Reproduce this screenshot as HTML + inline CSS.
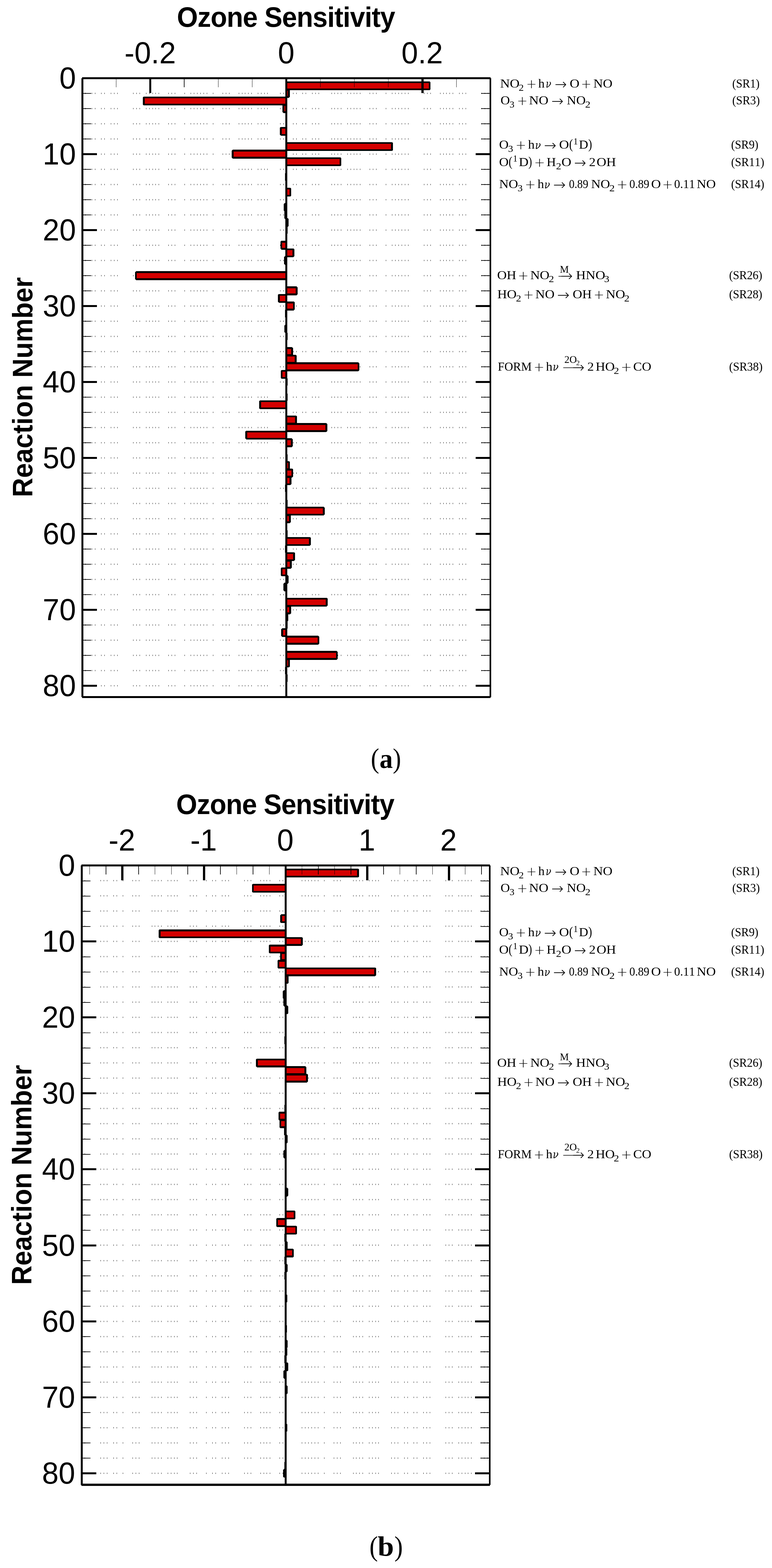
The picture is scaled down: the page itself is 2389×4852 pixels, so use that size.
<!DOCTYPE html>
<html lang="en">
<head>
<meta charset="utf-8">
<title>Ozone Sensitivity</title>
<style>
html,body{margin:0;padding:0;background:#fff}
body{width:2389px;height:4852px;overflow:hidden}
svg{display:block}
text{white-space:pre}
</style>
</head>
<body>
<svg width="2389" height="4852" viewBox="0 0 2389 4852">
<rect width="2389" height="4852" fill="#fff"/>
<g id="chart-a" shape-rendering="crispEdges">
<path d="M264.5 287V2124M284.5 287V2124M294.5 287V2124M313.5 287V2124M323.5 287V2124M343.5 287V2124M353.5 287V2124M363.5 287V2124M412.5 287V2124M422.5 287V2124M432.5 287V2124M452.5 287V2124M462.5 287V2124M472.5 287V2124M481.5 287V2124M491.5 287V2124M521.5 287V2124M531.5 287V2124M541.5 287V2124M571.5 287V2124M590.5 287V2124M600.5 287V2124M610.5 287V2124M620.5 287V2124M630.5 287V2124M640.5 287V2124M659.5 287V2124M689.5 287V2124M699.5 287V2124M709.5 287V2124M739.5 287V2124M749.5 287V2124M758.5 287V2124M768.5 287V2124M778.5 287V2124M798.5 287V2124M808.5 287V2124M818.5 287V2124M827.5 287V2124M867.5 287V2124M877.5 287V2124M907.5 287V2124M917.5 287V2124M936.5 287V2124M946.5 287V2124M966.5 287V2124M976.5 287V2124M986.5 287V2124M1026.5 287V2124M1035.5 287V2124M1045.5 287V2124M1055.5 287V2124M1075.5 287V2124M1085.5 287V2124M1095.5 287V2124M1104.5 287V2124M1114.5 287V2124M1144.5 287V2124M1154.5 287V2124M1164.5 287V2124M1194.5 287V2124M1213.5 287V2124M1223.5 287V2124M1233.5 287V2124M1243.5 287V2124M1253.5 287V2124M1263.5 287V2124M1312.5 287V2124M1322.5 287V2124M1332.5 287V2124M1362.5 287V2124M1372.5 287V2124M1381.5 287V2124M1391.5 287V2124M1401.5 287V2124M1421.5 287V2124M1431.5 287V2124M1441.5 287V2124M1490.5 287V2124M1500.5 287V2124M1510.5 287V2124" stroke="#000" stroke-width="1" stroke-dasharray="4 43" fill="none"/>
<g fill="#d40000" stroke="#000" stroke-width="5.5" stroke-linejoin="bevel"><rect x="885.9" y="254.65" width="443.45" height="21.6"/><rect x="885.9" y="278.15" width="7.95" height="21.6"/><rect x="444.75" y="301.65" width="441.15" height="21.6"/><rect x="877.15" y="325.15" width="8.75" height="21.6"/><rect x="869.05" y="395.65" width="16.85" height="21.6"/><rect x="885.9" y="442.65" width="327.25" height="21.6"/><rect x="720.15" y="466.15" width="165.75" height="21.6"/><rect x="885.9" y="489.65" width="167.35" height="21.6"/><rect x="884.75" y="536.65" width="1.15" height="21.6"/><rect x="885.9" y="583.65" width="12.45" height="21.6"/><rect x="881.15" y="630.65" width="4.75" height="21.6"/><rect x="882.75" y="654.15" width="3.15" height="21.6"/><rect x="885.9" y="677.65" width="4.35" height="21.6"/><rect x="885.9" y="701.15" width="0.85" height="21.6"/><rect x="870.55" y="748.15" width="15.35" height="21.6"/><rect x="885.9" y="771.65" width="22.05" height="21.6"/><rect x="882.15" y="795.15" width="3.75" height="21.6"/><rect x="420.65" y="842.15" width="465.25" height="21.6"/><rect x="885.9" y="889.15" width="32.15" height="21.6"/><rect x="863.05" y="912.65" width="22.85" height="21.6"/><rect x="885.9" y="936.15" width="23.55" height="21.6"/><rect x="884.75" y="959.65" width="1.15" height="21.6"/><rect x="883.15" y="1006.65" width="2.75" height="21.6"/><rect x="885.9" y="1030.15" width="1.35" height="21.6"/><rect x="885.9" y="1077.15" width="18.05" height="21.6"/><rect x="885.9" y="1100.65" width="29.15" height="21.6"/><rect x="885.9" y="1124.15" width="223.45" height="21.6"/><rect x="871.55" y="1147.65" width="14.35" height="21.6"/><rect x="885.9" y="1171.15" width="1.35" height="21.6"/><rect x="885.9" y="1218.15" width="1.35" height="21.6"/><rect x="804.95" y="1241.65" width="80.95" height="21.6"/><rect x="885.9" y="1288.65" width="30.15" height="21.6"/><rect x="885.9" y="1312.15" width="124.05" height="21.6"/><rect x="762.05" y="1335.65" width="123.85" height="21.6"/><rect x="885.9" y="1359.15" width="17.05" height="21.6"/><rect x="885.9" y="1406.15" width="1.35" height="21.6"/><rect x="885.9" y="1429.65" width="8.45" height="21.6"/><rect x="885.9" y="1453.15" width="18.55" height="21.6"/><rect x="885.9" y="1476.65" width="12.95" height="21.6"/><rect x="884.75" y="1500.15" width="1.15" height="21.6"/><rect x="885.9" y="1547.15" width="1.35" height="21.6"/><rect x="885.9" y="1570.65" width="115.95" height="21.6"/><rect x="885.9" y="1594.15" width="10.95" height="21.6"/><rect x="885.9" y="1641.15" width="1.35" height="21.6"/><rect x="885.9" y="1664.65" width="73.05" height="21.6"/><rect x="884.75" y="1688.15" width="1.15" height="21.6"/><rect x="885.9" y="1711.65" width="24.05" height="21.6"/><rect x="885.9" y="1735.15" width="14.05" height="21.6"/><rect x="871.55" y="1758.65" width="14.35" height="21.6"/><rect x="885.9" y="1782.15" width="3.95" height="21.6"/><rect x="880.15" y="1805.65" width="5.75" height="21.6"/><rect x="885.9" y="1852.65" width="125.05" height="21.6"/><rect x="885.9" y="1876.15" width="11.95" height="21.6"/><rect x="885.9" y="1899.65" width="2.85" height="21.6"/><rect x="885.9" y="1923.15" width="1.35" height="21.6"/><rect x="873.15" y="1946.65" width="12.75" height="21.6"/><rect x="885.9" y="1970.15" width="99.35" height="21.6"/><rect x="885.9" y="2017.15" width="156.35" height="21.6"/><rect x="885.9" y="2040.65" width="8.45" height="21.6"/><rect x="884.75" y="2064.15" width="1.15" height="21.6"/><rect x="885.9" y="2087.65" width="1.35" height="21.6"/></g>
<path d="M257.1 288H282V290H257.1zM1489 288H1516V290H1489zM257.1 335H282V337H257.1zM1489 335H1516V337H1489zM257.1 382H282V384H257.1zM1489 382H1516V384H1489zM257.1 429H282V431H257.1zM1489 429H1516V431H1489zM257.1 474H300V480H257.1zM1472 474H1516V480H1472zM257.1 523H282V525H257.1zM1489 523H1516V525H1489zM257.1 570H282V572H257.1zM1489 570H1516V572H1489zM257.1 617H282V619H257.1zM1489 617H1516V619H1489zM257.1 664H282V666H257.1zM1489 664H1516V666H1489zM257.1 709H300V715H257.1zM1472 709H1516V715H1472zM257.1 758H282V760H257.1zM1489 758H1516V760H1489zM257.1 805H282V807H257.1zM1489 805H1516V807H1489zM257.1 852H282V854H257.1zM1489 852H1516V854H1489zM257.1 899H282V901H257.1zM1489 899H1516V901H1489zM257.1 944H300V950H257.1zM1472 944H1516V950H1472zM257.1 993H282V995H257.1zM1489 993H1516V995H1489zM257.1 1040H282V1042H257.1zM1489 1040H1516V1042H1489zM257.1 1087H282V1089H257.1zM1489 1087H1516V1089H1489zM257.1 1134H282V1136H257.1zM1489 1134H1516V1136H1489zM257.1 1179H300V1185H257.1zM1472 1179H1516V1185H1472zM257.1 1228H282V1230H257.1zM1489 1228H1516V1230H1489zM257.1 1275H282V1277H257.1zM1489 1275H1516V1277H1489zM257.1 1322H282V1324H257.1zM1489 1322H1516V1324H1489zM257.1 1369H282V1371H257.1zM1489 1369H1516V1371H1489zM257.1 1414H300V1420H257.1zM1472 1414H1516V1420H1472zM257.1 1463H282V1465H257.1zM1489 1463H1516V1465H1489zM257.1 1510H282V1512H257.1zM1489 1510H1516V1512H1489zM257.1 1557H282V1559H257.1zM1489 1557H1516V1559H1489zM257.1 1604H282V1606H257.1zM1489 1604H1516V1606H1489zM257.1 1649H300V1655H257.1zM1472 1649H1516V1655H1472zM257.1 1698H282V1700H257.1zM1489 1698H1516V1700H1489zM257.1 1745H282V1747H257.1zM1489 1745H1516V1747H1489zM257.1 1792H282V1794H257.1zM1489 1792H1516V1794H1489zM257.1 1839H282V1841H257.1zM1489 1839H1516V1841H1489zM257.1 1884H300V1890H257.1zM1472 1884H1516V1890H1472zM257.1 1933H282V1935H257.1zM1489 1933H1516V1935H1489zM257.1 1980H282V1982H257.1zM1489 1980H1516V1982H1489zM257.1 2027H282V2029H257.1zM1489 2027H1516V2029H1489zM257.1 2074H282V2076H257.1zM1489 2074H1516V2076H1489zM257.1 2119H300V2125H257.1zM1472 2119H1516V2125H1472z" fill="#000"/>
<path d="M780.6 241.95V269.95M991.2 241.95V269.95M675.3 241.95V269.95M1096.5 241.95V269.95M570 241.95V269.95M1201.8 241.95V269.95M359.4 241.95V269.95M1412.4 241.95V269.95" stroke="#000" stroke-width="1.1" fill="none"/>
<path d="M462 241.95H467.95V287.75H462zM1304.2 241.95H1310.9V287.75H1304.2z" fill="#000"/>
<rect x="883" y="241.95" width="5.8" height="1915" fill="#000"/>
<path d="M253.9 239H1517.9V244.9H253.9zM253.9 2154H1517.9V2159.85H253.9zM252 242H258.1V2156.85H252zM1515 242H1520V2156.85H1515z" fill="#000"/>
<g font-family="'Liberation Sans', Arial, Helvetica, sans-serif" fill="#000">
<text transform="translate(884.8 82.55) scale(0.9540 1)" font-size="87.5" font-weight="bold" letter-spacing="-1.31" text-anchor="middle">Ozone Sensitivity</text>
<text transform="translate(464.75 196.15) scale(0.9720 1)" font-size="95" text-anchor="middle">-0.2</text>
<text transform="translate(885.7 196.15) scale(0.9720 1)" font-size="95" text-anchor="middle">0</text>
<text transform="translate(1306.3 196.15) scale(0.9720 1)" font-size="95" text-anchor="middle">0.2</text>
<text transform="translate(235 273.95) scale(0.9720 1)" font-size="95" text-anchor="end">0</text>
<text transform="translate(235 508.95) scale(0.9720 1)" font-size="95" text-anchor="end">10</text>
<text transform="translate(235 743.95) scale(0.9720 1)" font-size="95" text-anchor="end">20</text>
<text transform="translate(235 978.95) scale(0.9720 1)" font-size="95" text-anchor="end">30</text>
<text transform="translate(235 1213.95) scale(0.9720 1)" font-size="95" text-anchor="end">40</text>
<text transform="translate(235 1448.95) scale(0.9720 1)" font-size="95" text-anchor="end">50</text>
<text transform="translate(235 1683.95) scale(0.9720 1)" font-size="95" text-anchor="end">60</text>
<text transform="translate(235 1918.95) scale(0.9720 1)" font-size="95" text-anchor="end">70</text>
<text transform="translate(235 2153.95) scale(0.9720 1)" font-size="95" text-anchor="end">80</text>
<text transform="translate(100 1198.15) rotate(-90) scale(0.9540 1)" font-size="86.5" font-weight="bold" letter-spacing="-0.21" text-anchor="middle">Reaction Number</text>
</g>
</g>
<g id="chart-b" shape-rendering="crispEdges">
<path d="M262.5 2723V4560.94M311.5 2723V4560.94M321.5 2723V4560.94M331.5 2723V4560.94M351.5 2723V4560.94M361.5 2723V4560.94M380.5 2723V4560.94M410.5 2723V4560.94M420.5 2723V4560.94M430.5 2723V4560.94M470.5 2723V4560.94M479.5 2723V4560.94M489.5 2723V4560.94M499.5 2723V4560.94M519.5 2723V4560.94M529.5 2723V4560.94M539.5 2723V4560.94M548.5 2723V4560.94M588.5 2723V4560.94M598.5 2723V4560.94M608.5 2723V4560.94M638.5 2723V4560.94M657.5 2723V4560.94M667.5 2723V4560.94M687.5 2723V4560.94M697.5 2723V4560.94M707.5 2723V4560.94M756.5 2723V4560.94M766.5 2723V4560.94M776.5 2723V4560.94M806.5 2723V4560.94M816.5 2723V4560.94M825.5 2723V4560.94M835.5 2723V4560.94M865.5 2723V4560.94M875.5 2723V4560.94M934.5 2723V4560.94M944.5 2723V4560.94M954.5 2723V4560.94M964.5 2723V4560.94M974.5 2723V4560.94M984.5 2723V4560.94M1003.5 2723V4560.94M1033.5 2723V4560.94M1043.5 2723V4560.94M1053.5 2723V4560.94M1093.5 2723V4560.94M1102.5 2723V4560.94M1112.5 2723V4560.94M1122.5 2723V4560.94M1142.5 2723V4560.94M1152.5 2723V4560.94M1162.5 2723V4560.94M1171.5 2723V4560.94M1211.5 2723V4560.94M1221.5 2723V4560.94M1231.5 2723V4560.94M1251.5 2723V4560.94M1261.5 2723V4560.94M1280.5 2723V4560.94M1290.5 2723V4560.94M1310.5 2723V4560.94M1320.5 2723V4560.94M1330.5 2723V4560.94M1379.5 2723V4560.94M1389.5 2723V4560.94M1399.5 2723V4560.94M1419.5 2723V4560.94M1429.5 2723V4560.94M1439.5 2723V4560.94M1448.5 2723V4560.94M1458.5 2723V4560.94M1488.5 2723V4560.94M1498.5 2723V4560.94M1508.5 2723V4560.94" stroke="#000" stroke-width="1" stroke-dasharray="4 43.02" fill="none"/>
<g fill="#d40000" stroke="#000" stroke-width="5.5" stroke-linejoin="bevel"><rect x="883.9" y="2690.66" width="224.25" height="21.6"/><rect x="782.25" y="2737.69" width="101.65" height="21.6"/><rect x="870.05" y="2831.73" width="13.85" height="21.6"/><rect x="493.75" y="2878.76" width="390.15" height="21.6"/><rect x="883.9" y="2902.27" width="49.85" height="21.6"/><rect x="834.25" y="2925.78" width="49.65" height="21.6"/><rect x="869.55" y="2949.29" width="14.35" height="21.6"/><rect x="861.55" y="2972.81" width="22.35" height="21.6"/><rect x="883.9" y="2996.32" width="276.95" height="21.6"/><rect x="883.9" y="3019.83" width="6.35" height="21.6"/><rect x="878.15" y="3066.85" width="5.75" height="21.6"/><rect x="880.15" y="3090.37" width="3.75" height="21.6"/><rect x="883.9" y="3113.88" width="4.95" height="21.6"/><rect x="882.25" y="3207.93" width="1.65" height="21.6"/><rect x="794.85" y="3278.46" width="89.05" height="21.6"/><rect x="883.9" y="3301.97" width="60.95" height="21.6"/><rect x="883.9" y="3325.49" width="65.95" height="21.6"/><rect x="882.25" y="3419.53" width="1.65" height="21.6"/><rect x="864.55" y="3443.05" width="19.35" height="21.6"/><rect x="867.55" y="3466.56" width="16.35" height="21.6"/><rect x="881.75" y="3490.07" width="2.15" height="21.6"/><rect x="883.9" y="3513.58" width="3.35" height="21.6"/><rect x="883.25" y="3537.09" width="0.65" height="21.6"/><rect x="880.15" y="3560.61" width="3.75" height="21.6"/><rect x="883.9" y="3678.17" width="4.95" height="21.6"/><rect x="883.9" y="3748.7" width="27.65" height="21.6"/><rect x="857.45" y="3772.21" width="26.45" height="21.6"/><rect x="883.9" y="3795.73" width="32.65" height="21.6"/><rect x="882.25" y="3819.24" width="1.65" height="21.6"/><rect x="883.9" y="3842.75" width="2.95" height="21.6"/><rect x="883.9" y="3866.26" width="22.55" height="21.6"/><rect x="882.75" y="3889.77" width="1.15" height="21.6"/><rect x="883.9" y="3913.29" width="2.95" height="21.6"/><rect x="882.25" y="3936.8" width="1.65" height="21.6"/><rect x="883.9" y="4007.33" width="1.85" height="21.6"/><rect x="883.9" y="4101.38" width="0.85" height="21.6"/><rect x="883.9" y="4148.41" width="3.15" height="21.6"/><rect x="883.9" y="4171.92" width="1.85" height="21.6"/><rect x="882.25" y="4195.43" width="1.65" height="21.6"/><rect x="883.9" y="4218.94" width="5.35" height="21.6"/><rect x="880.15" y="4242.45" width="3.75" height="21.6"/><rect x="883.9" y="4289.48" width="3.35" height="21.6"/><rect x="883.9" y="4407.04" width="1.85" height="21.6"/><rect x="883.15" y="4524.6" width="0.75" height="21.6"/><rect x="878.75" y="4548.11" width="5.15" height="21.6"/></g>
<path d="M254.9 2725H280V2727H254.9zM1487 2725H1514V2727H1487zM254.9 2772H280V2774H254.9zM1487 2772H1514V2774H1487zM254.9 2819H280V2821H254.9zM1487 2819H1514V2821H1487zM254.9 2866H280V2868H254.9zM1487 2866H1514V2868H1487zM254.9 2910H298V2916H254.9zM1470 2910H1514V2916H1470zM254.9 2960H280V2962H254.9zM1487 2960H1514V2962H1487zM254.9 3007H280V3009H254.9zM1487 3007H1514V3009H1487zM254.9 3054H280V3056H254.9zM1487 3054H1514V3056H1487zM254.9 3101H280V3103H254.9zM1487 3101H1514V3103H1487zM254.9 3145H298V3151H254.9zM1470 3145H1514V3151H1470zM254.9 3195H280V3197H254.9zM1487 3195H1514V3197H1487zM254.9 3242H280V3244H254.9zM1487 3242H1514V3244H1487zM254.9 3289H280V3291H254.9zM1487 3289H1514V3291H1487zM254.9 3336H280V3338H254.9zM1487 3336H1514V3338H1487zM254.9 3380H298V3386H254.9zM1470 3380H1514V3386H1470zM254.9 3430H280V3432H254.9zM1487 3430H1514V3432H1487zM254.9 3477H280V3479H254.9zM1487 3477H1514V3479H1487zM254.9 3524H280V3526H254.9zM1487 3524H1514V3526H1487zM254.9 3571H280V3573H254.9zM1487 3571H1514V3573H1487zM254.9 3615H298V3621H254.9zM1470 3615H1514V3621H1470zM254.9 3665H280V3667H254.9zM1487 3665H1514V3667H1487zM254.9 3712H280V3714H254.9zM1487 3712H1514V3714H1487zM254.9 3759H280V3761H254.9zM1487 3759H1514V3761H1487zM254.9 3806H280V3808H254.9zM1487 3806H1514V3808H1487zM254.9 3851H298V3857H254.9zM1470 3851H1514V3857H1470zM254.9 3900H280V3902H254.9zM1487 3900H1514V3902H1487zM254.9 3947H280V3949H254.9zM1487 3947H1514V3949H1487zM254.9 3994H280V3996H254.9zM1487 3994H1514V3996H1487zM254.9 4041H280V4043H254.9zM1487 4041H1514V4043H1487zM254.9 4086H298V4092H254.9zM1470 4086H1514V4092H1470zM254.9 4135H280V4137H254.9zM1487 4135H1514V4137H1487zM254.9 4182H280V4184H254.9zM1487 4182H1514V4184H1487zM254.9 4229H280V4231H254.9zM1487 4229H1514V4231H1487zM254.9 4276H280V4278H254.9zM1487 4276H1514V4278H1487zM254.9 4321H298V4327H254.9zM1470 4321H1514V4327H1470zM254.9 4370H280V4372H254.9zM1487 4370H1514V4372H1487zM254.9 4417H280V4419H254.9zM1487 4417H1514V4419H1487zM254.9 4464H280V4466H254.9zM1487 4464H1514V4466H1487zM254.9 4511H280V4513H254.9zM1487 4511H1514V4513H1487zM254.9 4556H298V4562H254.9zM1470 4556H1514V4562H1470z" fill="#000"/>
<path d="M833.38 2677.95V2705.95M934.42 2677.95V2705.95M782.86 2677.95V2705.95M984.94 2677.95V2705.95M732.34 2677.95V2705.95M1035.46 2677.95V2705.95M681.82 2677.95V2705.95M1085.98 2677.95V2705.95M580.78 2677.95V2705.95M1187.02 2677.95V2705.95M530.26 2677.95V2705.95M1237.54 2677.95V2705.95M479.74 2677.95V2705.95M1288.06 2677.95V2705.95M429.22 2677.95V2705.95M1338.58 2677.95V2705.95M328.18 2677.95V2705.95M1439.62 2677.95V2705.95M277.66 2677.95V2705.95M1490.14 2677.95V2705.95" stroke="#000" stroke-width="1.5" fill="none"/>
<path d="M375.1 2677.95H382V2723.75H375.1zM628 2677.95H635V2723.75H628zM1133 2677.95H1140.05V2723.75H1133zM1385.5 2677.95H1392.5V2723.75H1385.5z" fill="#000"/>
<rect x="880.9" y="2677.95" width="6" height="1916.4" fill="#000"/>
<path d="M251.9 2675H1515.9V2680.85H251.9zM251.9 4590.9H1515.9V4597.85H251.9zM250 2678H255.9V4594.85H250zM1513 2678H1518V4594.85H1513z" fill="#000"/>
<g font-family="'Liberation Sans', Arial, Helvetica, sans-serif" fill="#000">
<text transform="translate(882.5 2518.55) scale(0.9540 1)" font-size="87.5" font-weight="bold" letter-spacing="-1.31" text-anchor="middle">Ozone Sensitivity</text>
<text transform="translate(377.4 2632.15) scale(0.9720 1)" font-size="95" text-anchor="middle">-2</text>
<text transform="translate(630 2632.15) scale(0.9720 1)" font-size="95" text-anchor="middle">-1</text>
<text transform="translate(882.8 2632.15) scale(0.9720 1)" font-size="95" text-anchor="middle">0</text>
<text transform="translate(1135.4 2632.15) scale(0.9720 1)" font-size="95" text-anchor="middle">1</text>
<text transform="translate(1387.9 2632.15) scale(0.9720 1)" font-size="95" text-anchor="middle">2</text>
<text transform="translate(232.7 2709.95) scale(0.9720 1)" font-size="95" text-anchor="end">0</text>
<text transform="translate(232.7 2945.07) scale(0.9720 1)" font-size="95" text-anchor="end">10</text>
<text transform="translate(232.7 3180.19) scale(0.9720 1)" font-size="95" text-anchor="end">20</text>
<text transform="translate(232.7 3415.31) scale(0.9720 1)" font-size="95" text-anchor="end">30</text>
<text transform="translate(232.7 3650.43) scale(0.9720 1)" font-size="95" text-anchor="end">40</text>
<text transform="translate(232.7 3885.55) scale(0.9720 1)" font-size="95" text-anchor="end">50</text>
<text transform="translate(232.7 4120.67) scale(0.9720 1)" font-size="95" text-anchor="end">60</text>
<text transform="translate(232.7 4355.79) scale(0.9720 1)" font-size="95" text-anchor="end">70</text>
<text transform="translate(232.7 4590.91) scale(0.9720 1)" font-size="95" text-anchor="end">80</text>
<text transform="translate(97 3635.65) rotate(-90) scale(0.9540 1)" font-size="86.5" font-weight="bold" letter-spacing="-0.21" text-anchor="middle">Reaction Number</text>
</g>
</g>
<g id="eqs-a" fill="#000" style="font-kerning:none">
<g><text transform="translate(1547.85 271) scale(1.1224 1)" font-family="'Liberation Serif', 'Times New Roman', serif" font-size="37">NO</text><text transform="translate(1605.29 280.8) scale(1.0312 1)" font-family="'Liberation Serif', 'Times New Roman', serif" font-size="30.3">2</text> <text transform="translate(1628.2 272.9) scale(1.0041 1)" font-family="'DejaVu Sans Light', 'DejaVu Sans', sans-serif" font-size="38.88" font-weight="200">+</text> <text transform="translate(1665.81 271) scale(1.0583 1)" font-family="'Liberation Serif', 'Times New Roman', serif" font-size="37">h</text><text transform="translate(1688.63 271.47) scale(0.8228 1)" font-family="'DejaVu Serif', 'Liberation Serif', serif" font-size="34.17" font-style="italic">ν</text> <text transform="translate(1716.2 276.18) scale(0.9985 1)" font-family="'DejaVu Sans Light', 'DejaVu Sans', sans-serif" font-size="45" font-weight="200">→</text> <text transform="translate(1762.95 271) scale(1.1283 1)" font-family="'Liberation Serif', 'Times New Roman', serif" font-size="37">O</text> <text transform="translate(1797.67 272.9) scale(0.9995 1)" font-family="'DejaVu Sans Light', 'DejaVu Sans', sans-serif" font-size="38.88" font-weight="200">+</text> <text transform="translate(1836.26 271) scale(1.1049 1)" font-family="'Liberation Serif', 'Times New Roman', serif" font-size="37">NO</text> <text transform="translate(2265.93 271) scale(0.9582 1)" font-family="'Liberation Serif', 'Times New Roman', serif" font-size="37">(SR1)</text></g>
<g><text transform="translate(1549.1 323.1) scale(1.0811 1)" font-family="'Liberation Serif', 'Times New Roman', serif" font-size="37">O</text><text transform="translate(1577.11 332.6) scale(0.9968 1)" font-family="'Liberation Serif', 'Times New Roman', serif" font-size="29.85">3</text> <text transform="translate(1599.75 325) scale(1.0165 1)" font-family="'DejaVu Sans Light', 'DejaVu Sans', sans-serif" font-size="38.88" font-weight="200">+</text> <text transform="translate(1637.36 323.1) scale(1.1165 1)" font-family="'Liberation Serif', 'Times New Roman', serif" font-size="37">NO</text> <text transform="translate(1706.1 328.28) scale(0.9985 1)" font-family="'DejaVu Sans Light', 'DejaVu Sans', sans-serif" font-size="45" font-weight="200">→</text> <text transform="translate(1754.04 323.1) scale(1.0912 1)" font-family="'Liberation Serif', 'Times New Roman', serif" font-size="37">NO</text><text transform="translate(1810.67 332.9) scale(1.0878 1)" font-family="'Liberation Serif', 'Times New Roman', serif" font-size="30.3">2</text> <text transform="translate(2265.92 323.1) scale(0.9663 1)" font-family="'Liberation Serif', 'Times New Roman', serif" font-size="37">(SR3)</text></g>
<g><text transform="translate(1544.4 460.2) scale(1.0990 1)" font-family="'Liberation Serif', 'Times New Roman', serif" font-size="37">O</text><text transform="translate(1572.22 469.7) scale(1.0490 1)" font-family="'Liberation Serif', 'Times New Roman', serif" font-size="29.85">3</text> <text transform="translate(1594.91 462.1) scale(1.0281 1)" font-family="'DejaVu Sans Light', 'DejaVu Sans', sans-serif" font-size="38.88" font-weight="200">+</text> <text transform="translate(1634.09 460.2) scale(1.1056 1)" font-family="'Liberation Serif', 'Times New Roman', serif" font-size="37">h</text><text transform="translate(1655.68 460.67) scale(0.8645 1)" font-family="'DejaVu Serif', 'Liberation Serif', serif" font-size="34.17" font-style="italic">ν</text> <text transform="translate(1683.09 465.38) scale(1.0246 1)" font-family="'DejaVu Sans Light', 'DejaVu Sans', sans-serif" font-size="45" font-weight="200">→</text> <text transform="translate(1730.31 460.2) scale(1.1444 1)" font-family="'Liberation Serif', 'Times New Roman', serif" font-size="37">O</text><text transform="translate(1761.21 460.15) scale(0.8471 1)" font-family="'Liberation Serif', 'Times New Roman', serif" font-size="41.67">(</text><text transform="translate(1774.86 446.8) scale(0.9260 1)" font-family="'Liberation Serif', 'Times New Roman', serif" font-size="29.31">1</text><text transform="translate(1791.5 460.2) scale(1.0769 1)" font-family="'Liberation Serif', 'Times New Roman', serif" font-size="37">D</text><text transform="translate(1820.45 460.15) scale(0.8400 1)" font-family="'Liberation Serif', 'Times New Roman', serif" font-size="41.67">)</text> <text transform="translate(2262.47 460.2) scale(0.9541 1)" font-family="'Liberation Serif', 'Times New Roman', serif" font-size="37">(SR9)</text></g>
<g><text transform="translate(1544.4 513.8) scale(1.0990 1)" font-family="'Liberation Serif', 'Times New Roman', serif" font-size="37">O</text><text transform="translate(1573.99 513.75) scale(0.8164 1)" font-family="'Liberation Serif', 'Times New Roman', serif" font-size="41.67">(</text><text transform="translate(1587.59 500.4) scale(0.9470 1)" font-family="'Liberation Serif', 'Times New Roman', serif" font-size="29.31">1</text><text transform="translate(1605.5 513.8) scale(1.1253 1)" font-family="'Liberation Serif', 'Times New Roman', serif" font-size="37">D</text><text transform="translate(1635.24 513.75) scale(0.8007 1)" font-family="'Liberation Serif', 'Times New Roman', serif" font-size="41.67">)</text> <text transform="translate(1652.8 515.7) scale(1.0424 1)" font-family="'DejaVu Sans Light', 'DejaVu Sans', sans-serif" font-size="38.88" font-weight="200">+</text> <text transform="translate(1691.59 513.8) scale(1.0859 1)" font-family="'Liberation Serif', 'Times New Roman', serif" font-size="37">H</text><text transform="translate(1720.65 523.6) scale(1.0643 1)" font-family="'Liberation Serif', 'Times New Roman', serif" font-size="30.3">2</text><text transform="translate(1737.41 513.8) scale(1.1444 1)" font-family="'Liberation Serif', 'Times New Roman', serif" font-size="37">O</text> <text transform="translate(1776.2 518.97) scale(0.9985 1)" font-family="'DejaVu Sans Light', 'DejaVu Sans', sans-serif" font-size="45" font-weight="200">→</text> <text transform="translate(1822.77 513.8) scale(1.1014 1)" font-family="'Liberation Serif', 'Times New Roman', serif" font-size="37">2</text> <text transform="translate(1846.23 513.8) scale(1.1253 1)" font-family="'Liberation Serif', 'Times New Roman', serif" font-size="37">OH</text> <text transform="translate(2262.46 513.8) scale(0.9612 1)" font-family="'Liberation Serif', 'Times New Roman', serif" font-size="37">(SR11)</text></g>
<g><text transform="translate(1544.81 582.2) scale(1.0912 1)" font-family="'Liberation Serif', 'Times New Roman', serif" font-size="37">NO</text><text transform="translate(1601.71 591.7) scale(1.0490 1)" font-family="'Liberation Serif', 'Times New Roman', serif" font-size="29.85">3</text> <text transform="translate(1624 584.1) scale(1.0424 1)" font-family="'DejaVu Sans Light', 'DejaVu Sans', sans-serif" font-size="38.88" font-weight="200">+</text> <text transform="translate(1663.6 582.2) scale(1.0859 1)" font-family="'Liberation Serif', 'Times New Roman', serif" font-size="37">h</text><text transform="translate(1684.53 582.67) scale(0.8444 1)" font-family="'DejaVu Serif', 'Liberation Serif', serif" font-size="34.17" font-style="italic">ν</text> <text transform="translate(1711.51 587.38) scale(1.0351 1)" font-family="'DejaVu Sans Light', 'DejaVu Sans', sans-serif" font-size="45" font-weight="200">→</text> <text transform="translate(1760.83 582.2) scale(0.9209 1)" font-family="'Liberation Serif', 'Times New Roman', serif" font-size="37">0.89</text> <text transform="translate(1829.34 582.2) scale(1.0912 1)" font-family="'Liberation Serif', 'Times New Roman', serif" font-size="37">NO</text><text transform="translate(1885.58 592) scale(1.1164 1)" font-family="'Liberation Serif', 'Times New Roman', serif" font-size="30.3">2</text> <text transform="translate(1907.72 584.1) scale(1.0709 1)" font-family="'DejaVu Sans Light', 'DejaVu Sans', sans-serif" font-size="38.88" font-weight="200">+</text> <text transform="translate(1947.81 582.2) scale(0.9511 1)" font-family="'Liberation Serif', 'Times New Roman', serif" font-size="37">0.89</text> <text transform="translate(2014.99 582.2) scale(1.1283 1)" font-family="'Liberation Serif', 'Times New Roman', serif" font-size="37">O</text> <text transform="translate(2048.9 584.1) scale(1.0281 1)" font-family="'DejaVu Sans Light', 'DejaVu Sans', sans-serif" font-size="38.88" font-weight="200">+</text> <text transform="translate(2086.32 582.2) scale(0.9946 1)" font-family="'Liberation Serif', 'Times New Roman', serif" font-size="37">0.11</text> <text transform="translate(2155.96 582.2) scale(1.1049 1)" font-family="'Liberation Serif', 'Times New Roman', serif" font-size="37">NO</text> <text transform="translate(2262.46 582.2) scale(0.9612 1)" font-family="'Liberation Serif', 'Times New Roman', serif" font-size="37">(SR14)</text></g>
<g><text transform="translate(1538.49 863.6) scale(1.1049 1)" font-family="'Liberation Serif', 'Times New Roman', serif" font-size="37">OH</text> <text transform="translate(1602.55 865.5) scale(1.0281 1)" font-family="'DejaVu Sans Light', 'DejaVu Sans', sans-serif" font-size="38.88" font-weight="200">+</text> <text transform="translate(1640.9 863.6) scale(1.1117 1)" font-family="'Liberation Serif', 'Times New Roman', serif" font-size="37">NO</text><text transform="translate(1697.91 873.4) scale(1.0878 1)" font-family="'Liberation Serif', 'Times New Roman', serif" font-size="30.3">2</text> <text transform="translate(1726.12 868.77) scale(0.4836 1)" font-family="'DejaVu Sans Light', 'DejaVu Sans', sans-serif" font-size="45" font-weight="200">−</text><text transform="translate(1734.5 868.77) scale(0.9985 1)" font-family="'DejaVu Sans Light', 'DejaVu Sans', sans-serif" font-size="45" font-weight="200">→</text> <text transform="translate(1732.46 843.7) scale(1.0041 1)" font-family="'Liberation Serif', 'Times New Roman', serif" font-size="31.08">M</text> <text transform="translate(1782.45 863.6) scale(1.1280 1)" font-family="'Liberation Serif', 'Times New Roman', serif" font-size="37">HNO</text><text transform="translate(1869.54 873.1) scale(1.0773 1)" font-family="'Liberation Serif', 'Times New Roman', serif" font-size="29.85">3</text> <text transform="translate(2256.21 863.6) scale(0.9612 1)" font-family="'Liberation Serif', 'Times New Roman', serif" font-size="37">(SR26)</text></g>
<g><text transform="translate(1538.88 922.9) scale(1.1185 1)" font-family="'Liberation Serif', 'Times New Roman', serif" font-size="37">HO</text><text transform="translate(1596.63 932.7) scale(1.0592 1)" font-family="'Liberation Serif', 'Times New Roman', serif" font-size="30.3">2</text> <text transform="translate(1618.91 924.8) scale(1.0138 1)" font-family="'DejaVu Sans Light', 'DejaVu Sans', sans-serif" font-size="38.88" font-weight="200">+</text> <text transform="translate(1656.87 922.9) scale(1.1049 1)" font-family="'Liberation Serif', 'Times New Roman', serif" font-size="37">NO</text> <text transform="translate(1723.69 928.07) scale(1.0246 1)" font-family="'DejaVu Sans Light', 'DejaVu Sans', sans-serif" font-size="45" font-weight="200">→</text> <text transform="translate(1772.37 922.9) scale(1.0981 1)" font-family="'Liberation Serif', 'Times New Roman', serif" font-size="37">OH</text> <text transform="translate(1836.76 924.8) scale(1.0281 1)" font-family="'DejaVu Sans Light', 'DejaVu Sans', sans-serif" font-size="38.88" font-weight="200">+</text> <text transform="translate(1875.12 922.9) scale(1.1117 1)" font-family="'Liberation Serif', 'Times New Roman', serif" font-size="37">NO</text><text transform="translate(1931.42 932.7) scale(1.0878 1)" font-family="'Liberation Serif', 'Times New Roman', serif" font-size="30.3">2</text> <text transform="translate(2256.21 922.9) scale(0.9612 1)" font-family="'Liberation Serif', 'Times New Roman', serif" font-size="37">(SR28)</text></g>
<g><text transform="translate(1540.4 1146.7) scale(1.0003 1)" font-family="'Liberation Serif', 'Times New Roman', serif" font-size="37">FORM</text> <text transform="translate(1651.13 1148.6) scale(1.0281 1)" font-family="'DejaVu Sans Light', 'DejaVu Sans', sans-serif" font-size="38.88" font-weight="200">+</text> <text transform="translate(1689.62 1146.7) scale(1.0859 1)" font-family="'Liberation Serif', 'Times New Roman', serif" font-size="37">h</text><text transform="translate(1710.51 1147.17) scale(0.8645 1)" font-family="'DejaVu Serif', 'Liberation Serif', serif" font-size="34.17" font-style="italic">ν</text> <text transform="translate(1737.46 1151.88) scale(1.1733 1)" font-family="'DejaVu Sans Light', 'DejaVu Sans', sans-serif" font-size="45" font-weight="200">−</text><text transform="translate(1770.9 1151.88) scale(0.9985 1)" font-family="'DejaVu Sans Light', 'DejaVu Sans', sans-serif" font-size="45" font-weight="200">→</text> <text transform="translate(1746.58 1123.29) scale(1.0132 1)" font-family="'Liberation Serif', 'Times New Roman', serif" font-size="31.04">2O</text><text transform="translate(1783.11 1129.9) scale(1.0756 1)" font-family="'Liberation Serif', 'Times New Roman', serif" font-size="20.45">2</text> <text transform="translate(1817.61 1146.7) scale(1.1019 1)" font-family="'Liberation Serif', 'Times New Roman', serif" font-size="37">2</text> <text transform="translate(1843.2 1146.7) scale(1.1049 1)" font-family="'Liberation Serif', 'Times New Roman', serif" font-size="37">HO</text><text transform="translate(1899.16 1156.5) scale(1.0878 1)" font-family="'Liberation Serif', 'Times New Roman', serif" font-size="30.3">2</text> <text transform="translate(1920.96 1148.6) scale(1.0567 1)" font-family="'DejaVu Sans Light', 'DejaVu Sans', sans-serif" font-size="38.88" font-weight="200">+</text> <text transform="translate(1959.53 1146.7) scale(1.0881 1)" font-family="'Liberation Serif', 'Times New Roman', serif" font-size="37">CO</text> <text transform="translate(2256.2 1146.7) scale(0.9713 1)" font-family="'Liberation Serif', 'Times New Roman', serif" font-size="37">(SR38)</text></g>
</g>
<g id="eqs-b" fill="#000" style="font-kerning:none">
<g><text transform="translate(1547.85 2708) scale(1.1224 1)" font-family="'Liberation Serif', 'Times New Roman', serif" font-size="37">NO</text><text transform="translate(1605.29 2717.8) scale(1.0312 1)" font-family="'Liberation Serif', 'Times New Roman', serif" font-size="30.3">2</text> <text transform="translate(1628.2 2709.9) scale(1.0041 1)" font-family="'DejaVu Sans Light', 'DejaVu Sans', sans-serif" font-size="38.88" font-weight="200">+</text> <text transform="translate(1665.81 2708) scale(1.0583 1)" font-family="'Liberation Serif', 'Times New Roman', serif" font-size="37">h</text><text transform="translate(1688.63 2708.47) scale(0.8228 1)" font-family="'DejaVu Serif', 'Liberation Serif', serif" font-size="34.17" font-style="italic">ν</text> <text transform="translate(1716.2 2713.18) scale(0.9985 1)" font-family="'DejaVu Sans Light', 'DejaVu Sans', sans-serif" font-size="45" font-weight="200">→</text> <text transform="translate(1762.95 2708) scale(1.1283 1)" font-family="'Liberation Serif', 'Times New Roman', serif" font-size="37">O</text> <text transform="translate(1797.67 2709.9) scale(0.9995 1)" font-family="'DejaVu Sans Light', 'DejaVu Sans', sans-serif" font-size="38.88" font-weight="200">+</text> <text transform="translate(1836.26 2708) scale(1.1049 1)" font-family="'Liberation Serif', 'Times New Roman', serif" font-size="37">NO</text> <text transform="translate(2265.93 2708) scale(0.9582 1)" font-family="'Liberation Serif', 'Times New Roman', serif" font-size="37">(SR1)</text></g>
<g><text transform="translate(1549.1 2760.1) scale(1.0811 1)" font-family="'Liberation Serif', 'Times New Roman', serif" font-size="37">O</text><text transform="translate(1577.11 2769.6) scale(0.9968 1)" font-family="'Liberation Serif', 'Times New Roman', serif" font-size="29.85">3</text> <text transform="translate(1599.75 2762) scale(1.0165 1)" font-family="'DejaVu Sans Light', 'DejaVu Sans', sans-serif" font-size="38.88" font-weight="200">+</text> <text transform="translate(1637.36 2760.1) scale(1.1165 1)" font-family="'Liberation Serif', 'Times New Roman', serif" font-size="37">NO</text> <text transform="translate(1706.1 2765.28) scale(0.9985 1)" font-family="'DejaVu Sans Light', 'DejaVu Sans', sans-serif" font-size="45" font-weight="200">→</text> <text transform="translate(1754.04 2760.1) scale(1.0912 1)" font-family="'Liberation Serif', 'Times New Roman', serif" font-size="37">NO</text><text transform="translate(1810.67 2769.9) scale(1.0878 1)" font-family="'Liberation Serif', 'Times New Roman', serif" font-size="30.3">2</text> <text transform="translate(2265.92 2760.1) scale(0.9663 1)" font-family="'Liberation Serif', 'Times New Roman', serif" font-size="37">(SR3)</text></g>
<g><text transform="translate(1544.4 2897.2) scale(1.0990 1)" font-family="'Liberation Serif', 'Times New Roman', serif" font-size="37">O</text><text transform="translate(1572.22 2906.7) scale(1.0490 1)" font-family="'Liberation Serif', 'Times New Roman', serif" font-size="29.85">3</text> <text transform="translate(1594.91 2899.1) scale(1.0281 1)" font-family="'DejaVu Sans Light', 'DejaVu Sans', sans-serif" font-size="38.88" font-weight="200">+</text> <text transform="translate(1634.09 2897.2) scale(1.1056 1)" font-family="'Liberation Serif', 'Times New Roman', serif" font-size="37">h</text><text transform="translate(1655.68 2897.67) scale(0.8645 1)" font-family="'DejaVu Serif', 'Liberation Serif', serif" font-size="34.17" font-style="italic">ν</text> <text transform="translate(1683.09 2902.38) scale(1.0246 1)" font-family="'DejaVu Sans Light', 'DejaVu Sans', sans-serif" font-size="45" font-weight="200">→</text> <text transform="translate(1730.31 2897.2) scale(1.1444 1)" font-family="'Liberation Serif', 'Times New Roman', serif" font-size="37">O</text><text transform="translate(1761.21 2897.15) scale(0.8471 1)" font-family="'Liberation Serif', 'Times New Roman', serif" font-size="41.67">(</text><text transform="translate(1774.86 2883.8) scale(0.9260 1)" font-family="'Liberation Serif', 'Times New Roman', serif" font-size="29.31">1</text><text transform="translate(1791.5 2897.2) scale(1.0769 1)" font-family="'Liberation Serif', 'Times New Roman', serif" font-size="37">D</text><text transform="translate(1820.45 2897.15) scale(0.8400 1)" font-family="'Liberation Serif', 'Times New Roman', serif" font-size="41.67">)</text> <text transform="translate(2262.47 2897.2) scale(0.9541 1)" font-family="'Liberation Serif', 'Times New Roman', serif" font-size="37">(SR9)</text></g>
<g><text transform="translate(1544.4 2950.8) scale(1.0990 1)" font-family="'Liberation Serif', 'Times New Roman', serif" font-size="37">O</text><text transform="translate(1573.99 2950.75) scale(0.8164 1)" font-family="'Liberation Serif', 'Times New Roman', serif" font-size="41.67">(</text><text transform="translate(1587.59 2937.4) scale(0.9470 1)" font-family="'Liberation Serif', 'Times New Roman', serif" font-size="29.31">1</text><text transform="translate(1605.5 2950.8) scale(1.1253 1)" font-family="'Liberation Serif', 'Times New Roman', serif" font-size="37">D</text><text transform="translate(1635.24 2950.75) scale(0.8007 1)" font-family="'Liberation Serif', 'Times New Roman', serif" font-size="41.67">)</text> <text transform="translate(1652.8 2952.7) scale(1.0424 1)" font-family="'DejaVu Sans Light', 'DejaVu Sans', sans-serif" font-size="38.88" font-weight="200">+</text> <text transform="translate(1691.59 2950.8) scale(1.0859 1)" font-family="'Liberation Serif', 'Times New Roman', serif" font-size="37">H</text><text transform="translate(1720.65 2960.6) scale(1.0643 1)" font-family="'Liberation Serif', 'Times New Roman', serif" font-size="30.3">2</text><text transform="translate(1737.41 2950.8) scale(1.1444 1)" font-family="'Liberation Serif', 'Times New Roman', serif" font-size="37">O</text> <text transform="translate(1776.2 2955.97) scale(0.9985 1)" font-family="'DejaVu Sans Light', 'DejaVu Sans', sans-serif" font-size="45" font-weight="200">→</text> <text transform="translate(1822.77 2950.8) scale(1.1014 1)" font-family="'Liberation Serif', 'Times New Roman', serif" font-size="37">2</text> <text transform="translate(1846.23 2950.8) scale(1.1253 1)" font-family="'Liberation Serif', 'Times New Roman', serif" font-size="37">OH</text> <text transform="translate(2262.46 2950.8) scale(0.9612 1)" font-family="'Liberation Serif', 'Times New Roman', serif" font-size="37">(SR11)</text></g>
<g><text transform="translate(1544.81 3019.2) scale(1.0912 1)" font-family="'Liberation Serif', 'Times New Roman', serif" font-size="37">NO</text><text transform="translate(1601.71 3028.7) scale(1.0490 1)" font-family="'Liberation Serif', 'Times New Roman', serif" font-size="29.85">3</text> <text transform="translate(1624 3021.1) scale(1.0424 1)" font-family="'DejaVu Sans Light', 'DejaVu Sans', sans-serif" font-size="38.88" font-weight="200">+</text> <text transform="translate(1663.6 3019.2) scale(1.0859 1)" font-family="'Liberation Serif', 'Times New Roman', serif" font-size="37">h</text><text transform="translate(1684.53 3019.67) scale(0.8444 1)" font-family="'DejaVu Serif', 'Liberation Serif', serif" font-size="34.17" font-style="italic">ν</text> <text transform="translate(1711.51 3024.38) scale(1.0351 1)" font-family="'DejaVu Sans Light', 'DejaVu Sans', sans-serif" font-size="45" font-weight="200">→</text> <text transform="translate(1760.83 3019.2) scale(0.9209 1)" font-family="'Liberation Serif', 'Times New Roman', serif" font-size="37">0.89</text> <text transform="translate(1829.34 3019.2) scale(1.0912 1)" font-family="'Liberation Serif', 'Times New Roman', serif" font-size="37">NO</text><text transform="translate(1885.58 3029) scale(1.1164 1)" font-family="'Liberation Serif', 'Times New Roman', serif" font-size="30.3">2</text> <text transform="translate(1907.72 3021.1) scale(1.0709 1)" font-family="'DejaVu Sans Light', 'DejaVu Sans', sans-serif" font-size="38.88" font-weight="200">+</text> <text transform="translate(1947.81 3019.2) scale(0.9511 1)" font-family="'Liberation Serif', 'Times New Roman', serif" font-size="37">0.89</text> <text transform="translate(2014.99 3019.2) scale(1.1283 1)" font-family="'Liberation Serif', 'Times New Roman', serif" font-size="37">O</text> <text transform="translate(2048.9 3021.1) scale(1.0281 1)" font-family="'DejaVu Sans Light', 'DejaVu Sans', sans-serif" font-size="38.88" font-weight="200">+</text> <text transform="translate(2086.32 3019.2) scale(0.9946 1)" font-family="'Liberation Serif', 'Times New Roman', serif" font-size="37">0.11</text> <text transform="translate(2155.96 3019.2) scale(1.1049 1)" font-family="'Liberation Serif', 'Times New Roman', serif" font-size="37">NO</text> <text transform="translate(2262.46 3019.2) scale(0.9612 1)" font-family="'Liberation Serif', 'Times New Roman', serif" font-size="37">(SR14)</text></g>
<g><text transform="translate(1538.49 3300.6) scale(1.1049 1)" font-family="'Liberation Serif', 'Times New Roman', serif" font-size="37">OH</text> <text transform="translate(1602.55 3302.5) scale(1.0281 1)" font-family="'DejaVu Sans Light', 'DejaVu Sans', sans-serif" font-size="38.88" font-weight="200">+</text> <text transform="translate(1640.9 3300.6) scale(1.1117 1)" font-family="'Liberation Serif', 'Times New Roman', serif" font-size="37">NO</text><text transform="translate(1697.91 3310.4) scale(1.0878 1)" font-family="'Liberation Serif', 'Times New Roman', serif" font-size="30.3">2</text> <text transform="translate(1726.12 3305.78) scale(0.4836 1)" font-family="'DejaVu Sans Light', 'DejaVu Sans', sans-serif" font-size="45" font-weight="200">−</text><text transform="translate(1734.5 3305.78) scale(0.9985 1)" font-family="'DejaVu Sans Light', 'DejaVu Sans', sans-serif" font-size="45" font-weight="200">→</text> <text transform="translate(1732.46 3280.7) scale(1.0041 1)" font-family="'Liberation Serif', 'Times New Roman', serif" font-size="31.08">M</text> <text transform="translate(1782.45 3300.6) scale(1.1280 1)" font-family="'Liberation Serif', 'Times New Roman', serif" font-size="37">HNO</text><text transform="translate(1869.54 3310.1) scale(1.0773 1)" font-family="'Liberation Serif', 'Times New Roman', serif" font-size="29.85">3</text> <text transform="translate(2256.21 3300.6) scale(0.9612 1)" font-family="'Liberation Serif', 'Times New Roman', serif" font-size="37">(SR26)</text></g>
<g><text transform="translate(1538.88 3359.9) scale(1.1185 1)" font-family="'Liberation Serif', 'Times New Roman', serif" font-size="37">HO</text><text transform="translate(1596.63 3369.7) scale(1.0592 1)" font-family="'Liberation Serif', 'Times New Roman', serif" font-size="30.3">2</text> <text transform="translate(1618.91 3361.8) scale(1.0138 1)" font-family="'DejaVu Sans Light', 'DejaVu Sans', sans-serif" font-size="38.88" font-weight="200">+</text> <text transform="translate(1656.87 3359.9) scale(1.1049 1)" font-family="'Liberation Serif', 'Times New Roman', serif" font-size="37">NO</text> <text transform="translate(1723.69 3365.07) scale(1.0246 1)" font-family="'DejaVu Sans Light', 'DejaVu Sans', sans-serif" font-size="45" font-weight="200">→</text> <text transform="translate(1772.37 3359.9) scale(1.0981 1)" font-family="'Liberation Serif', 'Times New Roman', serif" font-size="37">OH</text> <text transform="translate(1836.76 3361.8) scale(1.0281 1)" font-family="'DejaVu Sans Light', 'DejaVu Sans', sans-serif" font-size="38.88" font-weight="200">+</text> <text transform="translate(1875.12 3359.9) scale(1.1117 1)" font-family="'Liberation Serif', 'Times New Roman', serif" font-size="37">NO</text><text transform="translate(1931.42 3369.7) scale(1.0878 1)" font-family="'Liberation Serif', 'Times New Roman', serif" font-size="30.3">2</text> <text transform="translate(2256.21 3359.9) scale(0.9612 1)" font-family="'Liberation Serif', 'Times New Roman', serif" font-size="37">(SR28)</text></g>
<g><text transform="translate(1540.4 3583.7) scale(1.0003 1)" font-family="'Liberation Serif', 'Times New Roman', serif" font-size="37">FORM</text> <text transform="translate(1651.13 3585.6) scale(1.0281 1)" font-family="'DejaVu Sans Light', 'DejaVu Sans', sans-serif" font-size="38.88" font-weight="200">+</text> <text transform="translate(1689.62 3583.7) scale(1.0859 1)" font-family="'Liberation Serif', 'Times New Roman', serif" font-size="37">h</text><text transform="translate(1710.51 3584.17) scale(0.8645 1)" font-family="'DejaVu Serif', 'Liberation Serif', serif" font-size="34.17" font-style="italic">ν</text> <text transform="translate(1737.46 3588.88) scale(1.1733 1)" font-family="'DejaVu Sans Light', 'DejaVu Sans', sans-serif" font-size="45" font-weight="200">−</text><text transform="translate(1770.9 3588.88) scale(0.9985 1)" font-family="'DejaVu Sans Light', 'DejaVu Sans', sans-serif" font-size="45" font-weight="200">→</text> <text transform="translate(1746.58 3560.29) scale(1.0132 1)" font-family="'Liberation Serif', 'Times New Roman', serif" font-size="31.04">2O</text><text transform="translate(1783.11 3566.9) scale(1.0756 1)" font-family="'Liberation Serif', 'Times New Roman', serif" font-size="20.45">2</text> <text transform="translate(1817.61 3583.7) scale(1.1019 1)" font-family="'Liberation Serif', 'Times New Roman', serif" font-size="37">2</text> <text transform="translate(1843.2 3583.7) scale(1.1049 1)" font-family="'Liberation Serif', 'Times New Roman', serif" font-size="37">HO</text><text transform="translate(1899.16 3593.5) scale(1.0878 1)" font-family="'Liberation Serif', 'Times New Roman', serif" font-size="30.3">2</text> <text transform="translate(1920.96 3585.6) scale(1.0567 1)" font-family="'DejaVu Sans Light', 'DejaVu Sans', sans-serif" font-size="38.88" font-weight="200">+</text> <text transform="translate(1959.53 3583.7) scale(1.0881 1)" font-family="'Liberation Serif', 'Times New Roman', serif" font-size="37">CO</text> <text transform="translate(2256.2 3583.7) scale(0.9713 1)" font-family="'Liberation Serif', 'Times New Roman', serif" font-size="37">(SR38)</text></g>
</g>
<g id="captions" fill="#000">
<g><text transform="translate(1147.47 2375.62) scale(0.9061 1)" font-family="'Liberation Serif', 'Times New Roman', serif" font-size="86.56">(</text><text transform="translate(1174.5 2376.48) scale(0.9745 1)" font-family="'Liberation Serif', 'Times New Roman', serif" font-size="84.21" font-weight="bold">a</text><text transform="translate(1215.6 2375.62) scale(0.8865 1)" font-family="'Liberation Serif', 'Times New Roman', serif" font-size="86.56">)</text></g>
<g><text transform="translate(1143.37 4813.72) scale(0.9058 1)" font-family="'Liberation Serif', 'Times New Roman', serif" font-size="86.59">(</text><text transform="translate(1168.65 4814.13) scale(1.0346 1)" font-family="'Liberation Serif', 'Times New Roman', serif" font-size="87.19" font-weight="bold">b</text><text transform="translate(1220.46 4813.72) scale(0.9017 1)" font-family="'Liberation Serif', 'Times New Roman', serif" font-size="86.59">)</text></g>
</g>
</svg>
</body>
</html>
